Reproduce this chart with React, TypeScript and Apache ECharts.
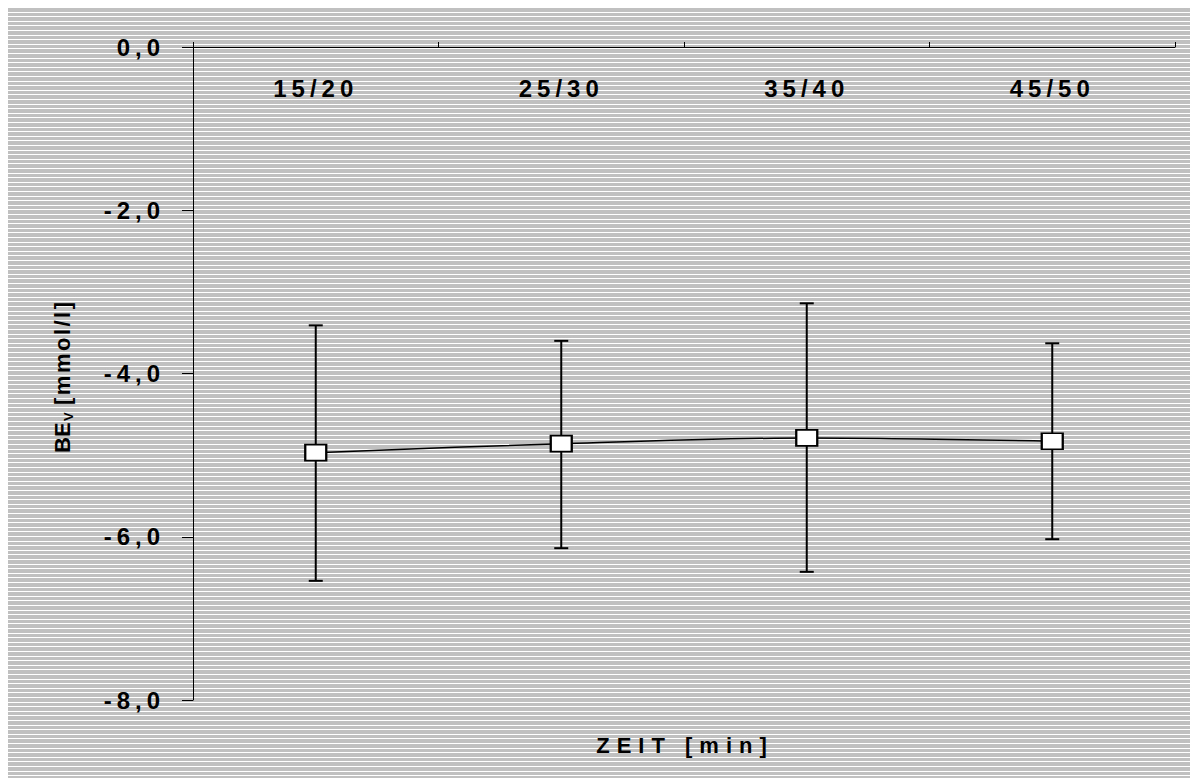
import React, { useEffect, useRef } from "react";
import * as echarts from "echarts";

const categories = ["15/20", "25/30", "35/40", "45/50"];
const means = [-4.97, -4.86, -4.79, -4.83];
const upper = [-3.41, -3.6, -3.14, -3.63];
const lower = [-6.54, -6.14, -6.43, -6.03];
const yTicks = { min: -8, max: 0, interval: 2 };
const xTitle = "ZEIT [min]";
const yTitleMain = "BE";
const yTitleSub = "V";
const yTitleUnit = "[mmol/l]";

const fmt = (v: number) => v.toFixed(1).replace(".", ",");

export default function App() {
  const ref = useRef<HTMLDivElement>(null);
  useEffect(() => {
    if (!ref.current) return;
    const el = ref.current;
    const chart = echarts.init(el, null, { renderer: "svg" });
    const errData = categories.map((_, i) => [i, lower[i], upper[i]]);
    const font = "'Liberation Sans', Arial, sans-serif";
    const yLabels = new Set<string>();
    for (let v = yTicks.min; v <= yTicks.max; v += yTicks.interval) yLabels.add(fmt(v));

    const spacing = () => {
      el.querySelectorAll("text").forEach((t) => {
        const s = (t.textContent || "").trim();
        const st = (t as SVGTextElement).style;
        if (categories.includes(s) || yLabels.has(s)) st.letterSpacing = "5px";
        else if (s === xTitle) st.letterSpacing = "7px";
        else if (s === yTitleUnit) st.letterSpacing = "2.5px";
      });
    };

    const tStyle = { fontFamily: font, fontWeight: "bold", fill: "#000" };

    chart.setOption({
      animation: false,
      backgroundColor: "transparent",
      tooltip: { show: false },
      grid: { left: 185, top: 39, right: 23, bottom: 78, containLabel: false },
      xAxis: {
        type: "category",
        data: categories,
        position: "top",
        boundaryGap: true,
        axisLine: { lineStyle: { color: "#000", width: 1 } },
        axisTick: { show: true, length: 5, lineStyle: { color: "#000" }, alignWithLabel: false },
        axisLabel: {
          inside: true,
          margin: 29,
          color: "#000",
          fontFamily: font,
          fontWeight: "bold",
          fontSize: 24,
        },
        splitLine: { show: false },
      },
      yAxis: {
        type: "value",
        min: yTicks.min,
        max: yTicks.max,
        interval: yTicks.interval,
        axisLine: { show: true, lineStyle: { color: "#000", width: 1 } },
        axisTick: { show: true, length: 11, lineStyle: { color: "#000" } },
        axisLabel: {
          margin: 28,
          color: "#000",
          fontFamily: font,
          fontWeight: "bold",
          fontSize: 24,
          formatter: fmt,
        },
        splitLine: { show: false },
      },
      graphic: [
        {
          type: "group",
          x: 54,
          y: 366,
          rotation: Math.PI / 2,
          silent: true,
          children: [
            {
              type: "text",
              x: -79,
              y: 0,
              style: { ...tStyle, text: yTitleMain, fontSize: 22, align: "left", verticalAlign: "middle" },
            },
            {
              type: "text",
              x: -47,
              y: 6,
              style: { ...tStyle, text: yTitleSub, fontSize: 13, align: "left", verticalAlign: "middle" },
            },
            {
              type: "text",
              x: -31,
              y: 0,
              style: { ...tStyle, text: yTitleUnit, fontSize: 22, align: "left", verticalAlign: "middle" },
            },
          ],
        },
        {
          type: "text",
          x: 677,
          y: 737,
          silent: true,
          style: {
            ...tStyle,
            text: xTitle,
            align: "center",
            verticalAlign: "middle",
            fontSize: 22,
          },
        },
      ],
      series: [
        {
          type: "custom",
          z: 1,
          silent: true,
          data: errData,
          encode: { x: 0, y: [1, 2] },
          renderItem: (params: any, api: any) => {
            const x = api.value(0);
            const lo = api.coord([x, api.value(1)]);
            const hi = api.coord([x, api.value(2)]);
            const cap = 7;
            const style = { stroke: "#000", lineWidth: 2 };
            return {
              type: "group",
              children: [
                { type: "line", shape: { x1: lo[0], y1: lo[1], x2: hi[0], y2: hi[1] }, style },
                { type: "line", shape: { x1: lo[0] - cap, y1: lo[1], x2: lo[0] + cap, y2: lo[1] }, style },
                { type: "line", shape: { x1: hi[0] - cap, y1: hi[1], x2: hi[0] + cap, y2: hi[1] }, style },
              ],
            };
          },
        },
        {
          type: "line",
          z: 3,
          silent: true,
          data: means,
          smooth: 0.3,
          symbol: "rect",
          symbolSize: [21, 16],
          lineStyle: { color: "#000", width: 1.5 },
          itemStyle: { color: "#fff", borderColor: "#000", borderWidth: 2 },
        },
      ],
    });
    chart.on("rendered", spacing);
    spacing();
    const t = setTimeout(spacing, 0);
    return () => {
      clearTimeout(t);
      chart.dispose();
    };
  }, []);
  return (
    <div
      ref={ref}
      style={{
        width: 1190,
        height: 770,
        background:
          "repeating-linear-gradient(to bottom, #c0c0c0 0px, #c0c0c0 3.6px, #ffffff 3.6px, #ffffff 4.6px)",
      }}
    />
  );
}
